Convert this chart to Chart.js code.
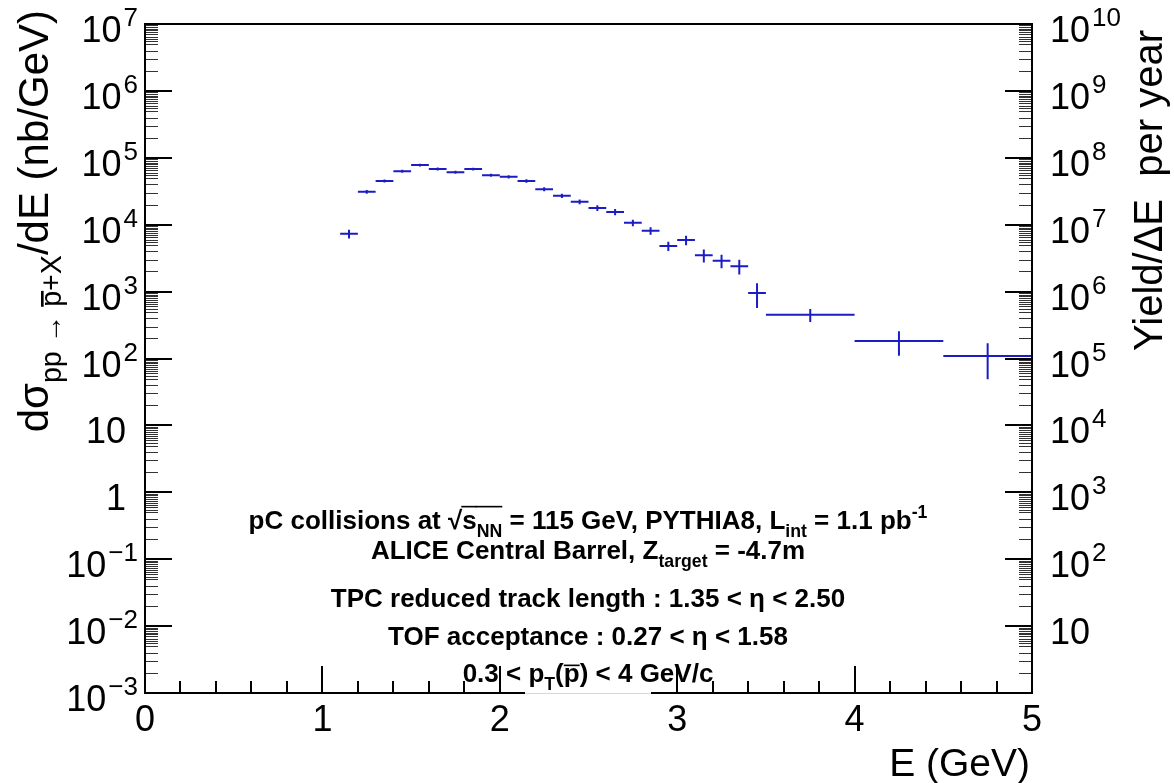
<!DOCTYPE html>
<html>
<head>
<meta charset="utf-8">
<script src="https://cdn.jsdelivr.net/npm/chart.js@4/dist/chart.umd.min.js"></script>
<style>
body { margin: 0; background: #fff; }
canvas { display: block; }
</style>
</head>
<body>
<canvas id="graphYield" width="1174" height="783"></canvas>
<script>
// energy bins (GeV): centre and half width
var binCenter = [1.15, 1.25, 1.35, 1.45, 1.55, 1.65, 1.75, 1.85, 1.95, 2.05, 2.15, 2.25,
	2.35, 2.45, 2.55, 2.65, 2.75, 2.85, 2.95, 3.05, 3.15, 3.25, 3.35, 3.45,
	3.75, 4.25, 4.75];
var binHalfWidth = [0.05, 0.05, 0.05, 0.05, 0.05, 0.05, 0.05, 0.05, 0.05, 0.05, 0.05, 0.05,
	0.05, 0.05, 0.05, 0.05, 0.05, 0.05, 0.05, 0.05, 0.05, 0.05, 0.05, 0.05,
	0.25, 0.25, 0.25];
// dsigma/dE (nb/GeV) and its error
var crossSection = [7300, 31000, 45000, 63000, 78000, 68000, 61000, 68000, 55000, 52000, 45000, 34000,
	27000, 22000, 17800, 15500, 10700, 8100, 4800, 5900, 3500, 2900, 2400, 950,
	450, 183, 109];
var crossSectionErr = [1100, 1900, 2300, 3000, 3700, 3400, 3000, 3300, 2900, 2900, 2700, 2400,
	1900, 1800, 1800, 1600, 1200, 1050, 770, 950, 770, 670, 600, 380,
	100, 73, 60];

var xTickLabels = [0, 1, 2, 3, 4, 5];
var leftDecades = [-3, -2, -1, 0, 1, 2, 3, 4, 5, 6, 7];
var rightDecades = [1, 2, 3, 4, 5, 6, 7, 8, 9, 10];
var minorMantissas = [2, 3, 4, 5, 5.5, 6, 6.5, 7, 7.5, 8, 8.5, 9, 9.5];

var leftTitle = [{t: 'd\u03c3'}, {t: 'pp \u2192 ', k: 'sub'}, {t: 'p', k: 'sub', over: 'bar'}, {t: '+X', k: 'sub'}, {t: '/dE (nb/GeV)'}];
var rightTitle = [{t: 'Yield/\u0394E  per year'}];
var xTitle = [{t: 'E (GeV)'}];

var infoLines = [
	[{t: 'pC collisions at '}, {t: '\u221a'}, {t: 's', over: 'root'}, {t: 'NN', k: 'sub', over: 'root'}, {t: ' = 115 GeV, PYTHIA8, L'}, {t: 'int', k: 'sub'}, {t: ' = 1.1 pb'}, {t: '-1', k: 'sup'}],
	[{t: 'ALICE Central Barrel, Z'}, {t: 'target', k: 'sub'}, {t: ' = -4.7m'}],
	[{t: 'TPC reduced track length : 1.35 < \u03b7 < 2.50'}],
	[{t: 'TOF acceptance : 0.27 < \u03b7 < 1.58'}],
	[{t: '0.3 < p'}, {t: 'T', k: 'sub'}, {t: '('}, {t: 'p', over: 'bar'}, {t: ') < 4 GeV/c'}]
];
var infoBaselines = [529, 559, 607, 645, 682];

var DATA_COLOR = '#1c1cc4';
var FONT = '"Liberation Sans", Arial, Helvetica, sans-serif';

function partFont(p, size, weight) {
	var s = p.k ? size * 0.68 : size;
	return weight + ' ' + s.toFixed(1) + 'px ' + FONT;
}

function drawRich(ctx, parts, x, y, size, weight, align) {
	var w = 0;
	parts.forEach(function(p) {
		ctx.font = partFont(p, size, weight);
		w += ctx.measureText(p.t).width;
	});
	var cx = x;
	if (align == 'center') cx = x - w / 2;
	if (align == 'right') cx = x - w;
	ctx.textAlign = 'left';
	ctx.textBaseline = 'alphabetic';
	parts.forEach(function(p) {
		ctx.font = partFont(p, size, weight);
		var s = p.k ? size * 0.68 : size;
		var dy = 0;
		if (p.k == 'sub') dy = size * 0.3;
		if (p.k == 'sup') dy = -size * 0.42;
		var pw = ctx.measureText(p.t).width;
		ctx.fillText(p.t, cx, y + dy);
		if (p.over) {
			var oy = p.over == 'root' ? y - size * 0.86 : y + dy - s * 0.64;
			ctx.save();
			ctx.lineWidth = size / 16;
			ctx.beginPath();
			ctx.moveTo(cx - (p.over == 'root' ? 1 : 0), oy);
			ctx.lineTo(cx + pw, oy);
			ctx.stroke();
			ctx.restore();
		}
		cx += pw;
	});
}

function expLabel(e) {
	if (e == 0) return [{t: '1'}];
	if (e == 1) return [{t: '10'}];
	return [{t: '10'}, {t: String(e).replace('-', '\u2212'), k: 'exp'}];
}

function drawExpLabel(ctx, e, x, y, align) {
	var parts = expLabel(e);
	ctx.font = '36px ' + FONT;
	var w1 = ctx.measureText(parts[0].t).width;
	var w2 = 0;
	if (parts.length > 1) {
		ctx.font = '26px ' + FONT;
		w2 = ctx.measureText(parts[1].t).width + 2;
	}
	var left = align == 'right' ? x - w1 - w2 : x;
	ctx.textAlign = 'left';
	ctx.font = '36px ' + FONT;
	ctx.fillText(parts[0].t, left, y);
	if (parts.length > 1) {
		ctx.font = '26px ' + FONT;
		ctx.fillText(parts[1].t, left + w1 + 2, y - 16);
	}
}

var rootAxes = {
	id: 'rootAxes',
	afterDraw: function(chart) {
		var ctx = chart.ctx;
		var area = chart.chartArea;
		var xs = chart.scales.x, ys = chart.scales.y, ys2 = chart.scales.y2;
		ctx.save();
		ctx.strokeStyle = '#000';
		ctx.fillStyle = '#000';

		// minor ticks, thin
		ctx.lineWidth = 1;
		ctx.strokeStyle = '#333';
		ctx.beginPath();
		leftDecades.forEach(function(e) {
			if (e == 7) return;
			minorMantissas.forEach(function(m) {
				var my = Math.round(ys.getPixelForValue(m * Math.pow(10, e))) + 0.5;
				ctx.moveTo(area.left, my);
				ctx.lineTo(area.left + 13, my);
			});
		});
		for (var e = 0; e < 10; e++) {
			minorMantissas.forEach(function(m) {
				var my = Math.round(ys2.getPixelForValue(m * Math.pow(10, e))) + 0.5;
				ctx.moveTo(area.right, my);
				ctx.lineTo(area.right - 13, my);
			});
		}
		ctx.stroke();

		// frame and major ticks
		ctx.strokeStyle = '#000';
		ctx.lineWidth = 2;
		ctx.strokeRect(area.left, area.top, area.right - area.left, area.bottom - area.top);
		ctx.beginPath();
		for (var i = 0; i <= 25; i++) {
			var px = Math.round(xs.getPixelForValue(i * 0.2));
			var len = (i % 5 == 0) ? 27 : 12;
			ctx.moveTo(px, area.bottom);
			ctx.lineTo(px, area.bottom - len);
		}
		leftDecades.forEach(function(e) {
			var py = Math.round(ys.getPixelForValue(Math.pow(10, e)));
			ctx.moveTo(area.left, py);
			ctx.lineTo(area.left + 27, py);
		});
		for (var e2 = 0; e2 <= 10; e2++) {
			var py2 = Math.round(ys2.getPixelForValue(Math.pow(10, e2)));
			ctx.moveTo(area.right, py2);
			ctx.lineTo(area.right - 27, py2);
		}
		ctx.stroke();

		// tick labels
		ctx.textBaseline = 'alphabetic';
		ctx.font = '36px ' + FONT;
		ctx.textAlign = 'center';
		xTickLabels.forEach(function(v) {
			ctx.fillText(String(v), xs.getPixelForValue(v), 731);
		});
		leftDecades.forEach(function(e) {
			var py = ys.getPixelForValue(Math.pow(10, e));
			drawExpLabel(ctx, e, (e == 0 || e == 1) ? 126 : 138, py + 18, 'right');
		});
		rightDecades.forEach(function(e) {
			var py = ys2.getPixelForValue(Math.pow(10, e));
			drawExpLabel(ctx, e, 1050, py + 18, 'left');
		});

		// axis titles
		drawRich(ctx, xTitle, 1030, 776, 39, 'normal', 'right');
		ctx.save();
		ctx.translate(48, 10);
		ctx.rotate(-Math.PI / 2);
		drawRich(ctx, leftTitle, 0, 0, 42, 'normal', 'right');
		ctx.restore();
		ctx.save();
		ctx.translate(1162, 30);
		ctx.rotate(-Math.PI / 2);
		drawRich(ctx, rightTitle, 0, 0, 40, 'normal', 'right');
		ctx.restore();

		// text box covering part of the bottom axis
		ctx.fillStyle = '#fff';
		ctx.fillRect(525, 679, 126, 17);
		ctx.strokeStyle = '#d8d8d8';
		ctx.lineWidth = 1;
		ctx.beginPath();
		ctx.moveTo(525, 693.5);
		ctx.lineTo(651, 693.5);
		ctx.stroke();
		ctx.fillStyle = '#000';
		ctx.strokeStyle = '#000';
		infoLines.forEach(function(parts, i) {
			drawRich(ctx, parts, 588, infoBaselines[i], 26, 'bold', 'center');
		});
		ctx.restore();
	}
};

var errorBars = {
	id: 'errorBars',
	afterDatasetsDraw: function(chart) {
		var ctx = chart.ctx;
		var xs = chart.scales.x, ys = chart.scales.y;
		ctx.save();
		ctx.strokeStyle = DATA_COLOR;
		ctx.lineWidth = 2;
		ctx.beginPath();
		chart.data.datasets[0].data.forEach(function(pt, i) {
			var px = xs.getPixelForValue(pt.x);
			var py = ys.getPixelForValue(pt.y);
			ctx.moveTo(xs.getPixelForValue(pt.x - binHalfWidth[i]), py);
			ctx.lineTo(xs.getPixelForValue(pt.x + binHalfWidth[i]), py);
			ctx.moveTo(px, ys.getPixelForValue(pt.y + crossSectionErr[i]));
			ctx.lineTo(px, ys.getPixelForValue(pt.y - crossSectionErr[i]));
		});
		ctx.stroke();
		ctx.restore();
	}
};

var ctx = document.getElementById('graphYield').getContext('2d');
var yieldChart = new Chart(ctx, {
	type: 'scatter',
	data: {
		datasets: [{
			data: binCenter.map(function(e, i) { return { x: e, y: crossSection[i] }; }),
			pointRadius: 0,
			borderColor: DATA_COLOR,
			backgroundColor: DATA_COLOR
		}]
	},
	options: {
		responsive: false,
		animation: false,
		devicePixelRatio: 1,
		layout: { padding: { left: 145, right: 142, top: 24, bottom: 90 } },
		plugins: { legend: { display: false }, tooltip: { enabled: false } },
		scales: {
			x: { type: 'linear', min: 0, max: 5, display: false },
			y: { type: 'logarithmic', min: 1e-3, max: 1e7, display: false },
			y2: { type: 'logarithmic', position: 'right', min: 1, max: 1e10, display: false }
		}
	},
	plugins: [errorBars, rootAxes]
});
</script>
</body>
</html>
